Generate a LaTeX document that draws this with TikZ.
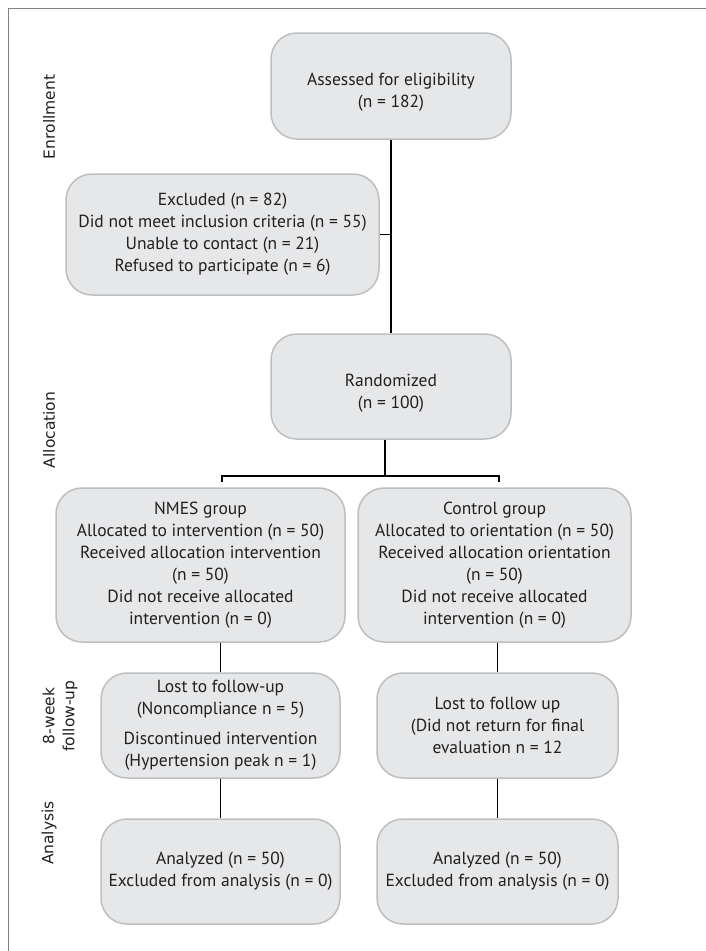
\documentclass[tikz,border=0pt]{standalone}
\usepackage{fontspec}
\setmainfont{PT Sans}
\newfontfamily\sidefont{DejaVu Sans}
\definecolor{boxfill}{HTML}{E6E7E8}
\definecolor{boxline}{HTML}{BCBEC0}
\definecolor{txt}{HTML}{231F20}
\definecolor{framec}{HTML}{808080}
\begin{document}
\begin{tikzpicture}[x=1pt,y=-1pt,
  box/.style={draw=boxline, fill=boxfill, line width=1.5pt, rounded corners=26pt,
    align=center, inner sep=0pt, text=txt, font=\fontsize{17.5}{22}\selectfont},
  lowtext/.style={text height=47pt},
  conn/.style={draw=black, line width=1.4pt},
  side/.style={rotate=90, align=center, text=txt, font=\sidefont\fontsize{15.5}{20}\selectfont}]
\useasboundingbox (0,0) rectangle (706,951);
\draw[framec, line width=1pt] (706,8) -- (8,8) -- (8,951);

\node[box, lowtext, minimum width=240pt, minimum height=106pt] (assess) at (391,86)
  {Assessed for eligibility\\(n = 182)};
\node[box, minimum width=313pt, minimum height=121pt] (excl) at (222.5,234.5)
  {Excluded (n = 82)\\Did not meet inclusion criteria (n = 55)\\Unable to contact (n = 21)\\Refused to participate (n = 6)};
\node[box, lowtext, minimum width=240pt, minimum height=105pt] (rand) at (391,386.5)
  {Randomized\\(n = 100)};
\node[box, minimum width=289pt, minimum height=154pt] (nmes) at (200.5,565)
  {NMES group\\Allocated to intervention (n = 50)\\Received allocation intervention\\(n = 50)\\Did not receive allocated\\intervention (n = 0)};
\node[box, minimum width=273pt, minimum height=154pt] (ctrl) at (494.5,565)
  {Control group\\Allocated to orientation (n = 50)\\Received allocation orientation\\(n = 50)\\Did not receive allocated\\intervention (n = 0)};
\node[box, minimum width=239pt, minimum height=105pt] (fu1) at (220.5,725.5)
  {Lost to follow-up\\(Noncompliance n = 5)\\[8pt]Discontinued intervention\\(Hypertension peak n = 1)};
\node[box, minimum width=241pt, minimum height=105pt] (fu2) at (497.5,725.5)
  {Lost to follow up\\(Did not return for final\\evaluation n = 12};
\node[box, minimum width=239pt, minimum height=105pt] (an1) at (220.5,871.5)
  {Analyzed (n = 50)\\Excluded from analysis (n = 0)};
\node[box, minimum width=241pt, minimum height=105pt] (an2) at (497.5,871.5)
  {Analyzed (n = 50)\\Excluded from analysis (n = 0)};

\node[side] (s1) at (49,117) {Enrollment};
\node[side] (s2) at (49,430) {Allocation};
\node[side] (s3) at (60,716) {8-week\\follow-up};
\node[side] (s4) at (49,833) {Analysis};

\coordinate (br) at (385,476);
\coordinate (tl) at (222,482);
\coordinate (tr) at (499,482);

\draw[conn] (assess.south) -- (rand.north);
\draw[conn] (excl.east) -- (excl.east -| assess.south);
\draw[conn] (rand.south -| br) -- (br);
\draw[conn] (tl) |- (br) -| (tr);
\draw[conn] (fu1.north |- nmes.south) -- (fu1.north);
\draw[conn] (fu2.north |- ctrl.south) -- (fu2.north);
\draw[conn] (fu1.south) -- (an1.north);
\draw[conn] (fu2.south) -- (an2.north);
\end{tikzpicture}
\end{document}
